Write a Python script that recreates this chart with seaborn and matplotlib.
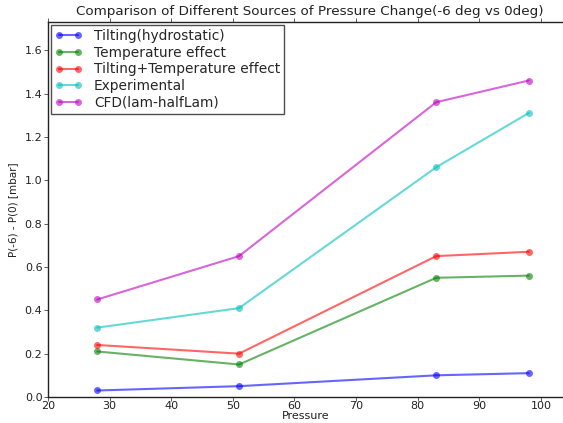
import matplotlib
matplotlib.use("Agg")
import matplotlib.pyplot as plt
import seaborn as sns
import pandas as pd

pressure = [28, 51, 83, 98]
tilting = [0.03, 0.05, 0.10, 0.11]
temperature = [0.21, 0.15, 0.55, 0.56]
tilt_temp = [0.24, 0.20, 0.65, 0.67]
experimental = [0.32, 0.41, 1.06, 1.31]
cfd = [0.45, 0.65, 1.36, 1.46]

names = ["Tilting(hydrostatic)", "Temperature effect", "Tilting+Temperature effect",
         "Experimental", "CFD(lam-halfLam)"]
series = [tilting, temperature, tilt_temp, experimental, cfd]
colors = ["#0000ff", "#008000", "#ff0000", "#00bfbf", "#bf00bf"]

rows = []
for n, vals in zip(names, series):
    for p, v in zip(pressure, vals):
        rows.append({"Pressure": p, "value": v, "series": n})
df = pd.DataFrame(rows)

sns.set_style("ticks")
plt.rcParams["font.family"] = ["DejaVu Sans"]

fig = plt.figure(figsize=(5.63, 4.23), dpi=100)
# reference is cropped on the right: axes runs to the figure edge
ax = fig.add_axes([48 / 563, 26 / 423, 515 / 563, 375 / 423])

sns.lineplot(data=df, x="Pressure", y="value", hue="series", hue_order=names,
             palette=dict(zip(names, colors)), marker="o", markersize=5,
             markeredgewidth=0, linewidth=1.5, alpha=0.6, ax=ax)

ax.set_xlim(20, 103.57)
ax.set_ylim(0, 1.73)
ax.set_xticks([20, 30, 40, 50, 60, 70, 80, 90, 100])
yt = [0.0, 0.2, 0.4, 0.6, 0.8, 1.0, 1.2, 1.4, 1.6]
ax.set_yticks(yt)
ax.set_yticklabels([f"{v:.1f}" for v in yt])
ax.tick_params(axis="both", labelsize=8, colors="#444444", length=3, width=0.6,
               direction="out", labelcolor="#222222", pad=1)
ax.tick_params(axis="x", pad=0)
ax.tick_params(top=True, right=False)
for s in ax.spines.values():
    s.set_color("#222222")
    s.set_linewidth(1.0)
ax.spines["right"].set_visible(False)
ax.set_xlabel("Pressure", fontsize=8, labelpad=0, color="#222222")
ax.set_ylabel("P(-6) - P(0) [mbar]", fontsize=7.5, labelpad=5, color="#222222")
ax.set_title("Comparison of Different Sources of Pressure Change(-6 deg vs 0deg)",
             fontsize=9.7, pad=5, color="#222222", loc="left", x=0.054)

leg = ax.legend(loc="upper left", fontsize=9.9, frameon=True, fancybox=False,
                borderaxespad=0.2, handlelength=2.0, handletextpad=0.85,
                labelspacing=0.2, borderpad=0.3, numpoints=2)
leg.get_frame().set_edgecolor("#222222")
leg.get_frame().set_linewidth(1.0)
for h in leg.legend_handles:
    h.set_alpha(0.6)

fig.savefig("out.png", dpi=100)
